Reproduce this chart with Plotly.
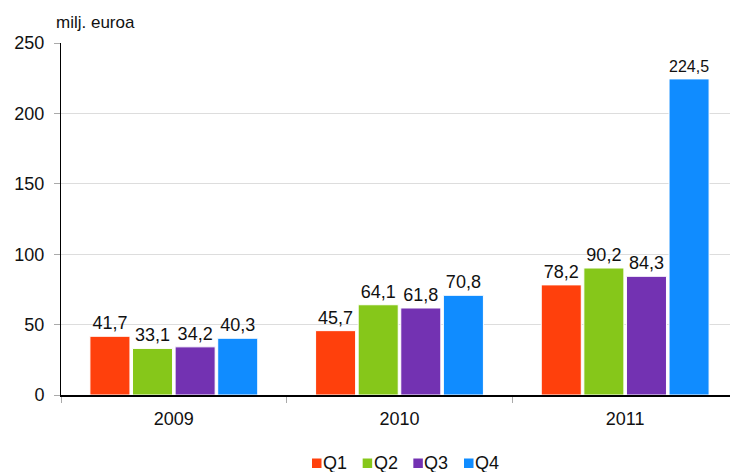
import plotly.graph_objects as go

categories = ["2009", "2010", "2011"]
series_names = ["Q1", "Q2", "Q3", "Q4"]
q1 = [41.7, 45.7, 78.2]
q2 = [33.1, 64.1, 90.2]
q3 = [34.2, 61.8, 84.3]
q4 = [40.3, 70.8, 224.5]
colors = ["#FF400C", "#86C71A", "#7332B2", "#108CFF"]
y_ticks = [0, 50, 100, 150, 200, 250]

FONT = "Liberation Sans, Arial"
W, H = 730, 472
ML, MR, MT, MB = 53, 0, 35, 85
PW, PH = W - ML - MR, H - MT - MB

fig = go.Figure()
for name, vals, col in zip(series_names, [q1, q2, q3, q4], colors):
    fig.add_trace(go.Bar(
        x=categories, y=vals, name=name,
        marker=dict(color=col, line=dict(color="white", width=1)),
        text=[f"{v:.1f}".replace(".", ",") for v in vals],
        textposition="outside", cliponaxis=False,
        textfont=dict(size=18, color="#111111", family=FONT),
    ))

def px_x(p):
    return (p - ML) / PW

def px_y(p):
    return (MT + PH - p) / PH

annotations = [dict(text="milj. euroa", x=px_x(46), xanchor="left", y=px_y(14),
                    yanchor="middle", xref="paper", yref="paper",
                    showarrow=False, font=dict(size=17))]
shapes = []
leg_x0, leg_step, sq = 304, 50.67, 9.5
for i, (name, col) in enumerate(zip(series_names, colors)):
    x0 = leg_x0 + i * leg_step
    shapes.append(dict(type="rect", xref="paper", yref="paper",
                       x0=px_x(x0), x1=px_x(x0 + sq), y0=px_y(460), y1=px_y(450.5),
                       fillcolor=col, line=dict(width=0)))
    annotations.append(dict(text=name, x=px_x(x0 + sq + 0.5), xanchor="left",
                            y=px_y(455), yanchor="middle", xref="paper", yref="paper",
                            showarrow=False, borderpad=0,
                            font=dict(size=18, color="#111111")))

fig.update_layout(
    width=W, height=H,
    barmode="group", bargap=0.245, bargroupgap=0.06,
    margin=dict(l=ML, r=MR, t=MT, b=MB, autoexpand=False),
    plot_bgcolor="white", paper_bgcolor="white",
    font=dict(family=FONT, size=18, color="#111111"),
    showlegend=False,
    annotations=annotations, shapes=shapes,
)
fig.update_yaxes(range=[0, 250], tickvals=y_ticks, showgrid=True, gridcolor="#DDDDDD",
                 gridwidth=1, showline=True, linecolor="black", linewidth=1,
                 ticks="outside", ticklen=6, tickcolor="#AAAAAA", zeroline=False,
                 ticklabelstandoff=6)
fig.update_xaxes(showline=True, linecolor="black", linewidth=1.5, ticks="outside",
                 tickson="boundaries", ticklen=6, tickcolor="#AAAAAA", showgrid=False,
                 ticklabelstandoff=7)

fig.write_html("out.html")
